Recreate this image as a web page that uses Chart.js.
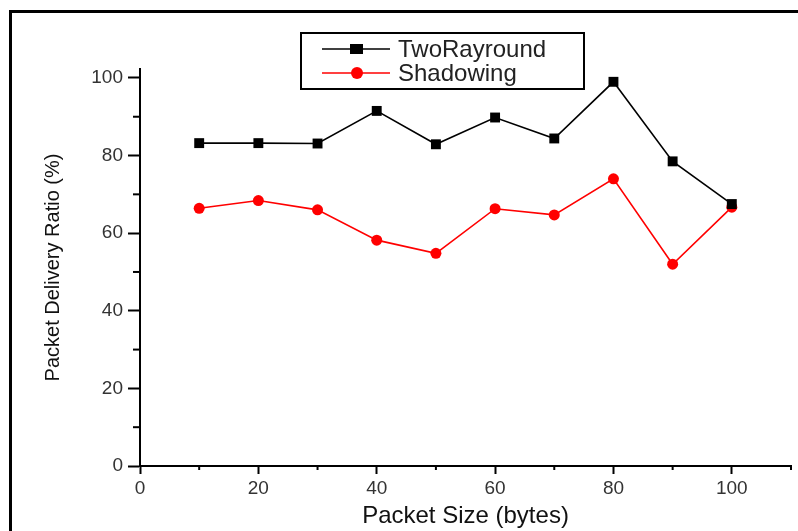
<!DOCTYPE html>
<html lang="en">
<head>
<meta charset="UTF-8">
<title>Packet Delivery Ratio</title>
<script src="https://cdn.jsdelivr.net/npm/chart.js"></script>
<style>
    html, body { margin: 0; padding: 0; background: #fff; overflow: hidden; }
    .frame { position: absolute; left: 9px; top: 10px; width: 820px; height: 540px; border: 3px solid #000; }
    #pdrChart { position: absolute; left: 0; top: 0; }
</style>
</head>
<body>
<div class="frame"></div>
<canvas id="pdrChart" width="798" height="531"></canvas>
<script>
// values
const packetSizes = [10, 20, 30, 40, 50, 60, 70, 80, 90, 100];
const twoRayRound = [83.2, 83.2, 83.1, 91.5, 82.9, 89.8, 84.4, 99.0, 78.5, 67.5];
const shadowing = [66.4, 68.4, 66.0, 58.2, 54.8, 66.3, 64.7, 74.0, 52.0, 66.7];

const xTicks = [0, 20, 40, 60, 80, 100];
const xMinorTicks = [10, 30, 50, 70, 90, 110];
const yTicks = [0, 20, 40, 60, 80, 100];
const yMinorTicks = [10, 30, 50, 70, 90];

const font = '"Liberation Sans", Arial, sans-serif';

// short minor ticks on both axes
const minorTicks = {
    id: 'minorTicks',
    afterDraw(chart) {
        const { ctx, chartArea, scales } = chart;
        ctx.save();
        ctx.strokeStyle = '#000';
        ctx.lineWidth = 2;
        xMinorTicks.forEach(v => {
            const px = scales.x.getPixelForValue(v);
            ctx.beginPath();
            ctx.moveTo(px, chartArea.bottom);
            ctx.lineTo(px, chartArea.bottom + 4);
            ctx.stroke();
        });
        yMinorTicks.forEach(v => {
            const py = scales.y.getPixelForValue(v);
            ctx.beginPath();
            ctx.moveTo(chartArea.left, py);
            ctx.lineTo(chartArea.left - 7, py);
            ctx.stroke();
        });
        ctx.restore();
    }
};

// boxed legend inside the plot, line + marker like the original
const boxLegend = {
    id: 'boxLegend',
    afterDraw(chart) {
        const ctx = chart.ctx;
        const left = 301, top = 33, w = 283, h = 56;
        ctx.save();
        ctx.fillStyle = '#fff';
        ctx.fillRect(left, top, w, h);
        ctx.strokeStyle = '#000';
        ctx.lineWidth = 2;
        ctx.strokeRect(left, top, w, h);
        chart.data.datasets.forEach((ds, i) => {
            const cy = top + 16 + i * 24;
            ctx.strokeStyle = ds.borderColor;
            ctx.lineWidth = 1.5;
            ctx.beginPath();
            ctx.moveTo(left + 21, cy);
            ctx.lineTo(left + 89, cy);
            ctx.stroke();
            ctx.fillStyle = ds.pointBackgroundColor;
            if (ds.pointStyle === 'rect') {
                ctx.fillRect(left + 49, cy - 5, 13, 10);
            } else {
                ctx.beginPath();
                ctx.arc(left + 56, cy, 6, 0, Math.PI * 2);
                ctx.fill();
            }
            ctx.fillStyle = '#222';
            ctx.font = '24px ' + font;
            ctx.textBaseline = 'middle';
            ctx.fillText(ds.label, left + 97, cy + 1);
        });
        ctx.restore();
    }
};

const ctx = document.getElementById('pdrChart').getContext('2d');
const pdrChart = new Chart(ctx, {
    type: 'line',
    data: {
        labels: packetSizes,
        datasets: [{
            label: 'TwoRayround',
            data: packetSizes.map((x, i) => ({ x: x, y: twoRayRound[i] })),
            borderColor: '#000',
            backgroundColor: '#000',
            pointBackgroundColor: '#000',
            pointBorderWidth: 0,
            pointStyle: 'rect',
            pointRadius: 7,
            borderWidth: 1.6,
            tension: 0
        }, {
            label: 'Shadowing',
            data: packetSizes.map((x, i) => ({ x: x, y: shadowing[i] })),
            borderColor: '#ff0000',
            backgroundColor: '#ff0000',
            pointBackgroundColor: '#ff0000',
            pointBorderWidth: 0,
            pointStyle: 'circle',
            pointRadius: 5.5,
            borderWidth: 1.6,
            tension: 0
        }]
    },
    options: {
        responsive: false,
        animation: false,
        layout: { padding: { top: 69, right: 2, left: 0, bottom: 0 } },
        plugins: {
            legend: { display: false },
            tooltip: { enabled: false }
        },
        scales: {
            x: {
                type: 'linear',
                min: 0,
                max: 110,
                afterBuildTicks: s => { s.ticks = xTicks.map(v => ({ value: v })); },
                afterFit: s => { s.height = 65; },
                grid: { drawOnChartArea: false, tickLength: 8, tickWidth: 2, tickColor: '#000' },
                border: { color: '#000', width: 2 },
                ticks: { font: { family: font, size: 19 }, color: '#333', padding: 3, maxRotation: 0, autoSkip: false },
                title: {
                    display: true,
                    text: 'Packet Size (bytes)',
                    color: '#111',
                    font: { family: font, size: 24 },
                    padding: { top: 0, bottom: 0 }
                }
            },
            y: {
                min: 0,
                max: 102.3,
                afterBuildTicks: s => { s.ticks = yTicks.map(v => ({ value: v })); },
                afterFit: s => { s.width = 140; },
                grid: { drawOnChartArea: false, tickLength: 12, tickWidth: 2, tickColor: '#000' },
                border: { color: '#000', width: 2 },
                ticks: { font: { family: font, size: 19 }, color: '#333', padding: 5 },
                title: {
                    display: true,
                    text: 'Packet Delivery Ratio (%)',
                    color: '#111',
                    font: { family: font, size: 20 },
                    padding: { top: 41, bottom: 0 }
                }
            }
        }
    },
    plugins: [minorTicks, boxLegend]
});
</script>
</body>
</html>
